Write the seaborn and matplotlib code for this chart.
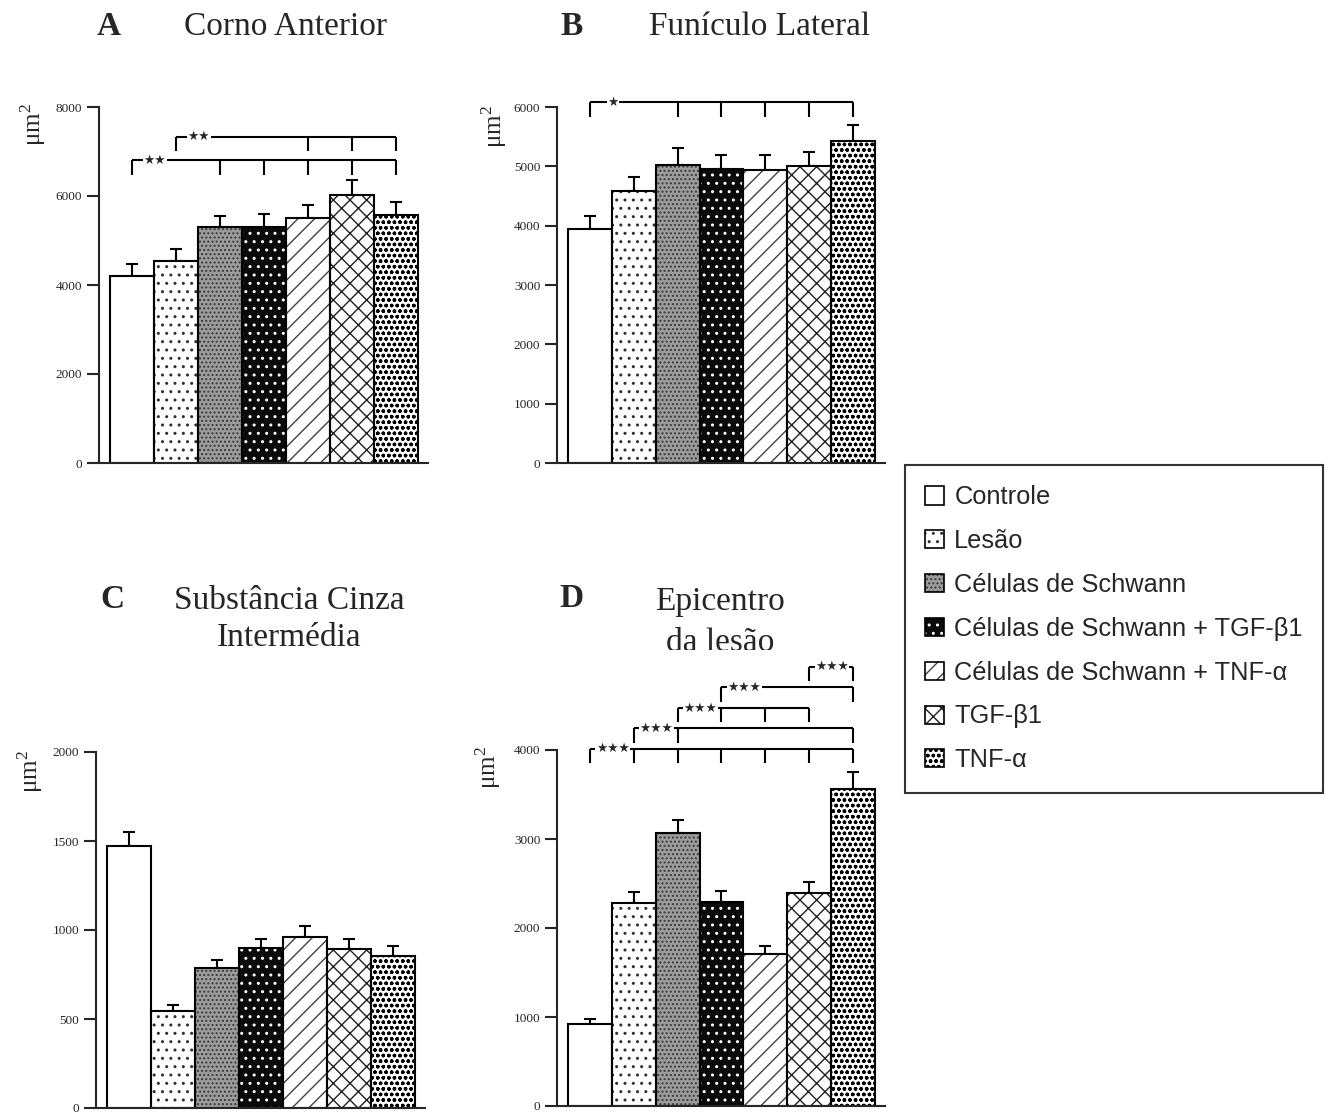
import numpy as np
import pandas as pd
import seaborn as sns
import matplotlib
matplotlib.use("Agg")
import matplotlib.pyplot as plt
from matplotlib.patches import Rectangle, Patch

# ---------------- data ----------------
groups = ["Controle", "Lesão", "Células de Schwann",
          "Células de Schwann + TGF-β1", "Células de Schwann + TNF-α",
          "TGF-β1", "TNF-α"]

a_mean = [4210, 4540, 5310, 5310, 5500, 6020, 5580]
a_err = [270, 265, 240, 285, 300, 345, 290]
b_mean = [3940, 4580, 5030, 4955, 4940, 5000, 5420]
b_err = [225, 245, 285, 235, 250, 250, 285]
c_mean = [1473, 547, 787, 897, 962, 895, 856]
c_err = [77, 32, 44, 50, 58, 52, 54]
d_mean = [925, 2285, 3070, 2295, 1708, 2390, 3562]
d_err = [50, 117, 140, 120, 90, 127, 188]

a_ticks = [0, 2000, 4000, 6000, 8000]
b_ticks = [0, 1000, 2000, 3000, 4000, 5000, 6000]
c_ticks = [0, 500, 1000, 1500, 2000]
d_ticks = [0, 1000, 2000, 3000, 4000]

# significance brackets: (left bar, right bar, line level, drop level, drop bars, stars)
a_brackets = [(0, 6, 6810, 6470, [0, 2, 3, 4, 5, 6], "★★"),
              (1, 6, 7335, 7020, [1, 4, 5, 6], "★★")]
b_brackets = [(0, 6, 6080, 5830, [0, 2, 3, 4, 5, 6], "★")]
c_brackets = []
d_brackets = [(0, 6, 4015, 3857, [0, 1, 2, 3, 4, 5, 6], "★★★"),
              (1, 6, 4243, 4082, [1, 2, 6], "★★★"),
              (2, 5, 4472, 4311, [2, 3, 4, 5], "★★★"),
              (3, 6, 4708, 4543, [3, 6], "★★★"),
              (5, 6, 4936, 4772, [5, 6], "★★★")]

# ---------------- styles ----------------
face = ["white", "white", "#9c9c9c", "#0a0a0a", "white", "white", "white"]
hatch = [None, "..", "....", "..", "//", "xx", "ooo"]
hcolor = ["black", "#303030", "#3a3a3a", "white", "#404040", "#202020", "black"]

sns.set_style("ticks")
plt.rcParams["font.family"] = ["Liberation Serif", "DejaVu Serif"]
plt.rcParams["hatch.linewidth"] = 1.0

W, H = 1332, 1113
fig = plt.figure(figsize=(W / 100, H / 100), dpi=100)


def fx(px):
    return px / W


def fy(py):
    return 1 - py / H


def panel(rect_px, means, errs, ticks, brackets, lab_pos):
    x0, ytop, x1, ybot = rect_px
    ax = fig.add_axes([fx(x0), fy(ybot), (x1 - x0) / W, (ybot - ytop) / H])
    df = pd.DataFrame({"grupo": groups, "valor": means})
    sns.barplot(data=df, x="grupo", y="valor", hue="grupo", hue_order=groups,
                order=groups, palette=dict(zip(groups, face)), width=1.0,
                errorbar=None, legend=False, saturation=1, linewidth=0, ax=ax)
    bars = sorted(ax.patches, key=lambda p: p.get_x())
    for i, p in enumerate(bars):
        p.set_facecolor(face[i])
        p.set_edgecolor(hcolor[i])
        p.set_linewidth(0)
        if hatch[i]:
            p.set_hatch(hatch[i])
        ax.add_patch(Rectangle((p.get_x(), 0), p.get_width(), p.get_height(),
                               fill=False, ec="black", lw=1.5, zorder=p.get_zorder() + 0.1))
    ax.errorbar(np.arange(len(means)), means, yerr=[np.zeros(len(errs)), errs],
                fmt="none", ecolor="black", elinewidth=1.5, capsize=4.5,
                capthick=1.5, zorder=0.5)
    ax.set_xlim(-0.75, 6.73)
    ax.set_ylim(ticks[0], ticks[-1])
    ax.set_yticks(ticks)
    ax.set_yticklabels([str(t) for t in ticks])
    ax.set_xticks([])
    ax.set_xlabel("")
    ax.set_ylabel("")
    for s in ["top", "right"]:
        ax.spines[s].set_visible(False)
    for s in ["left", "bottom"]:
        ax.spines[s].set_linewidth(1.5)
    ax.tick_params(axis="y", length=9, width=1.5, direction="out", labelsize=9.5, pad=3)
    ax.text(lab_pos[0], lab_pos[1], r"$\mathregular{\mu m^2}$", rotation=90,
            transform=ax.transAxes, ha="center", va="center", fontsize=18)
    for (l, r, yl, yd, drops, stars) in brackets:
        ax.plot([l, r], [yl, yl], color="black", lw=1.5, clip_on=False,
                solid_capstyle="butt")
        for d in drops:
            ax.plot([d, d], [yl, yd], color="black", lw=1.5, clip_on=False,
                    solid_capstyle="butt")
        ax.text(l + 0.52, yl, stars, ha="center", va="center", fontsize=9,
                family="DejaVu Sans", clip_on=False,
                bbox=dict(facecolor="white", edgecolor="none", pad=0.4))
    return ax


panel((99, 107, 428, 463), a_mean, a_err, a_ticks, a_brackets, (-0.2, 0.95))
panel((557, 107, 885, 463), b_mean, b_err, b_ticks, b_brackets, (-0.19, 0.944))
panel((96, 752, 425, 1108), c_mean, c_err, c_ticks, c_brackets, (-0.2, 0.945))
panel((557, 750, 885, 1106), d_mean, d_err, d_ticks, d_brackets, (-0.21, 0.95))

# ---------------- titles ----------------
tfs = 24
fig.text(fx(109), fy(35), "A", ha="center", va="baseline", fontsize=tfs, fontweight="bold")
fig.text(fx(285), fy(35), "Corno Anterior", ha="center", va="baseline", fontsize=tfs)
fig.text(fx(572), fy(35), "B", ha="center", va="baseline", fontsize=tfs, fontweight="bold")
fig.text(fx(760), fy(35), "Funículo Lateral", ha="center", va="baseline", fontsize=tfs)
fig.text(fx(112), fy(608), "C", ha="center", va="baseline", fontsize=tfs, fontweight="bold")
fig.text(fx(289), fy(609), "Substância Cinza", ha="center", va="baseline", fontsize=tfs)
fig.text(fx(289), fy(646), "Intermédia", ha="center", va="baseline", fontsize=tfs)
fig.text(fx(572), fy(607), "D", ha="center", va="baseline", fontsize=tfs, fontweight="bold")
fig.text(fx(720), fy(610), "Epicentro", ha="center", va="baseline", fontsize=tfs, zorder=3)
fig.text(fx(720), fy(651), "da lesão", ha="center", va="baseline", fontsize=tfs, zorder=3)
# the second line of the D title is cut off at its lower edge in the original
fig.patches.append(Rectangle((fx(640), fy(664)), fx(160), (664 - 650) / H,
                             transform=fig.transFigure, facecolor="white",
                             edgecolor="none", zorder=4))

# ---------------- legend ----------------
handles = []
for i in range(len(groups)):
    fill_p = Patch(facecolor=face[i], edgecolor=hcolor[i], hatch=hatch[i], linewidth=0)
    out_p = Patch(facecolor="none", edgecolor="black", linewidth=1.2)
    handles.append((fill_p, out_p))
leg = fig.legend(handles, groups, loc="upper left",
                 bbox_to_anchor=(fx(905), fy(465)), bbox_transform=fig.transFigure,
                 frameon=True, fancybox=False, edgecolor="black", borderaxespad=0,
                 prop={"family": "Liberation Sans", "size": 18.3},
                 handlelength=0.72, handleheight=0.72, handletextpad=0.42,
                 labelspacing=0.78, borderpad=0.8)
leg.get_frame().set_linewidth(1.5)

fig.savefig("out.png", dpi=100)
